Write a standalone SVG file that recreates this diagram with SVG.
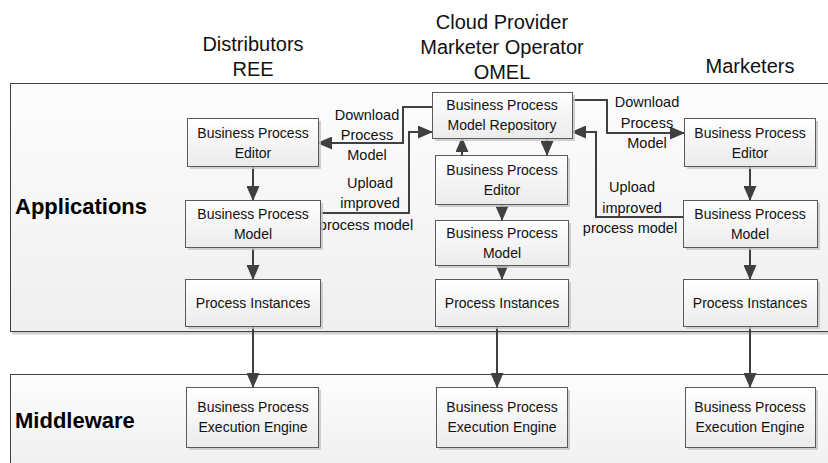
<svg xmlns="http://www.w3.org/2000/svg" width="828" height="463" viewBox="0 0 828 463">
<defs>
<linearGradient id="gBox" x1="0" y1="0" x2="0" y2="1">
<stop offset="0" stop-color="#ffffff"/>
<stop offset="1" stop-color="#ebebeb"/>
</linearGradient>
<linearGradient id="gLayer" x1="0" y1="0" x2="0" y2="1">
<stop offset="0" stop-color="#fdfdfd"/>
<stop offset="1" stop-color="#efefef"/>
</linearGradient>
<marker id="arr" markerUnits="userSpaceOnUse" markerWidth="15" markerHeight="13" refX="14" refY="6.5" orient="auto">
<path d="M0,0 L15,6.5 L0,13 z" fill="#404040"/>
</marker>
<style>
.layer{fill:url(#gLayer);stroke:#404040;stroke-width:1}
.lshadow{fill:#d0d0d0}
.box{fill:url(#gBox);stroke:#5a5a5a;stroke-width:1}
.shadow{fill:#c4c4c4;opacity:0.8}
.t{font-family:"Liberation Sans",Arial,sans-serif;font-size:14px;fill:#111;text-anchor:middle}
.lbl{font-family:"Liberation Sans",Arial,sans-serif;font-size:14.5px;fill:#111;text-anchor:middle}
.hdr{font-family:"Liberation Sans",Arial,sans-serif;font-size:20px;fill:#111;text-anchor:middle}
.layerT{font-family:"Liberation Sans",Arial,sans-serif;font-size:22px;font-weight:bold;fill:#000}
.c{fill:none;stroke:#404040;stroke-width:2;marker-end:url(#arr)}
</style>
</defs>
<rect width="828" height="463" fill="#ffffff"/>

<g id="headers">
<text class="hdr" x="253" y="51">Distributors</text>
<text class="hdr" x="253" y="76">REE</text>
<text class="hdr" x="502" y="28.5">Cloud Provider</text>
<text class="hdr" x="502" y="53.5">Marketer Operator</text>
<text class="hdr" x="502" y="78.5">OMEL</text>
<text class="hdr" x="750" y="73">Marketers</text>
</g>

<g id="applications">
<rect class="lshadow" x="12" y="85" width="830" height="249.5"/>
<rect class="layer" x="10.5" y="83.5" width="830" height="248"/>
<text class="layerT" x="15" y="214">Applications</text>
</g>
<g id="middleware">
<rect class="layer" x="10.5" y="374.5" width="830" height="100"/>
<text class="layerT" x="15" y="428">Middleware</text>
</g>

<g id="connectors">
<path class="c" d="M253,166 V200"/>
<path class="c" d="M253,247 V279"/>
<path class="c" d="M253,326 V387"/>
<path class="c" d="M432,107 H403 V143 H318"/>
<path class="c" d="M320,213 H409 V132 H432"/>
<path class="c" d="M462,155 V138"/>
<path class="c" d="M547,138 V155"/>
<path class="c" d="M502,204 V220"/>
<path class="c" d="M502,265 V279"/>
<path class="c" d="M497,326 V387"/>
<path class="c" d="M572,100 H607 V133 H684"/>
<path class="c" d="M683,217 H596 V132 H572"/>
<path class="c" d="M750,166 V200"/>
<path class="c" d="M750,247 V279"/>
<path class="c" d="M750,326 V387"/>
</g>

<g id="labels">
<text class="lbl" x="367" y="120">Download</text>
<text class="lbl" x="367" y="140">Process</text>
<text class="lbl" x="367" y="160">Model</text>
<text class="lbl" x="370" y="188">Upload</text>
<text class="lbl" x="370" y="208">improved</text>
<text class="lbl" x="366" y="230">process model</text>
<text class="lbl" x="647" y="107">Download</text>
<text class="lbl" x="647" y="127.5">Process</text>
<text class="lbl" x="647" y="148">Model</text>
<text class="lbl" x="632" y="192">Upload</text>
<text class="lbl" x="632" y="213">improved</text>
<text class="lbl" x="630" y="233">process model</text>
</g>

<g id="L_editor">
<rect class="shadow" x="190" y="121" width="131" height="48"/>
<rect class="box" x="187.5" y="118.5" width="131" height="48"/>
<text class="t" x="253" y="138">Business Process</text>
<text class="t" x="253" y="158">Editor</text>
</g>
<g id="L_model">
<rect class="shadow" x="188" y="203" width="135" height="47"/>
<rect class="box" x="185.5" y="200.5" width="135" height="47"/>
<text class="t" x="253" y="218.5">Business Process</text>
<text class="t" x="253" y="238.5">Model</text>
</g>
<g id="L_pi">
<rect class="shadow" x="188" y="282" width="135" height="47"/>
<rect class="box" x="185.5" y="279.5" width="135" height="47"/>
<text class="t" x="253" y="307.5">Process Instances</text>
</g>
<g id="L_exec">
<rect class="shadow" x="189" y="390" width="132" height="60"/>
<rect class="box" x="186.5" y="387.5" width="132" height="60"/>
<text class="t" x="253" y="412">Business Process</text>
<text class="t" x="253" y="432">Execution Engine</text>
</g>

<g id="M_repo">
<rect class="shadow" x="435" y="95" width="140" height="46"/>
<rect class="box" x="432.5" y="92.5" width="140" height="46"/>
<text class="t" x="502" y="110">Business Process</text>
<text class="t" x="502" y="130">Model Repository</text>
</g>
<g id="M_editor">
<rect class="shadow" x="438" y="158" width="132" height="49"/>
<rect class="box" x="435.5" y="155.5" width="132" height="49"/>
<text class="t" x="502" y="174.5">Business Process</text>
<text class="t" x="502" y="194.5">Editor</text>
</g>
<g id="M_model">
<rect class="shadow" x="438" y="223" width="133" height="45"/>
<rect class="box" x="435.5" y="220.5" width="133" height="45"/>
<text class="t" x="502" y="237.5">Business Process</text>
<text class="t" x="502" y="257.5">Model</text>
</g>
<g id="M_pi">
<rect class="shadow" x="438" y="282" width="133" height="47"/>
<rect class="box" x="435.5" y="279.5" width="133" height="47"/>
<text class="t" x="502" y="307.5">Process Instances</text>
</g>
<g id="M_exec">
<rect class="shadow" x="439" y="390" width="131" height="60"/>
<rect class="box" x="436.5" y="387.5" width="131" height="60"/>
<text class="t" x="502" y="412">Business Process</text>
<text class="t" x="502" y="432">Execution Engine</text>
</g>

<g id="R_editor">
<rect class="shadow" x="687" y="121" width="131" height="48"/>
<rect class="box" x="684.5" y="118.5" width="131" height="48"/>
<text class="t" x="750" y="138">Business Process</text>
<text class="t" x="750" y="158">Editor</text>
</g>
<g id="R_model">
<rect class="shadow" x="686" y="203" width="134" height="47"/>
<rect class="box" x="683.5" y="200.5" width="134" height="47"/>
<text class="t" x="750" y="218.5">Business Process</text>
<text class="t" x="750" y="238.5">Model</text>
</g>
<g id="R_pi">
<rect class="shadow" x="686" y="282" width="134" height="47"/>
<rect class="box" x="683.5" y="279.5" width="134" height="47"/>
<text class="t" x="750" y="307.5">Process Instances</text>
</g>
<g id="R_exec">
<rect class="shadow" x="688" y="390" width="130" height="60"/>
<rect class="box" x="685.5" y="387.5" width="130" height="60"/>
<text class="t" x="750" y="412">Business Process</text>
<text class="t" x="750" y="432">Execution Engine</text>
</g>
</svg>
